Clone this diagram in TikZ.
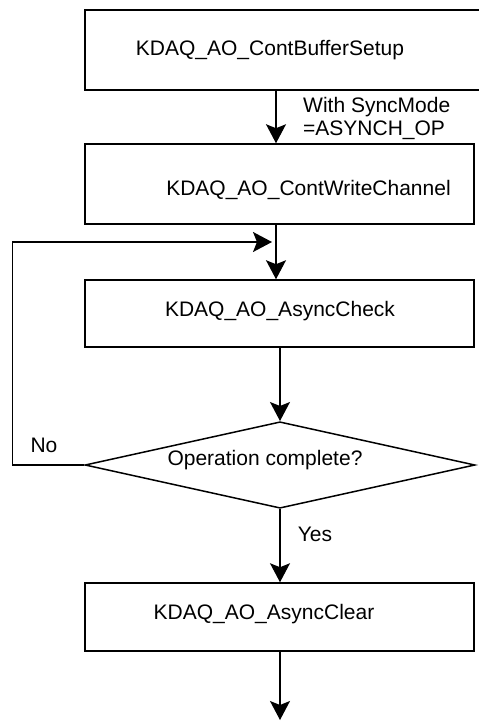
\documentclass[tikz,border=0pt]{standalone}
\usepackage{fontspec}
\setmainfont{Liberation Sans}
\usetikzlibrary{arrows.meta,shapes.geometric}
\begin{document}
\begin{tikzpicture}[x=1pt,y=-1pt,
  every node/.style={font=\fontsize{21}{23}\selectfont, inner sep=0pt},
  boxstyle/.style={draw, line width=1.5pt, rectangle, minimum width=#1},
  conn/.style={line width=1.5pt, -{Stealth[length=19pt,width=20pt,inset=4pt]}},
  lineonly/.style={line width=1.5pt}]
\useasboundingbox (0,0) rectangle (479,721);
\fill[white] (0,0) rectangle (479,721);
% boxes
\node[boxstyle=397pt, minimum height=80pt] (box1) at (283.5,50) {};
\node (t1) at (270,50.5) {KDAQ\_AO\_ContBufferSetup};
\node[boxstyle=389pt, minimum height=80pt] (box2) at (279.5,184) {};
\node (t2) at (308.5,190) {KDAQ\_AO\_ContWriteChannel};
\node[boxstyle=389pt, minimum height=67pt] (box3) at (279.5,313.5) {};
\node (t3) at (280,311.5) {KDAQ\_AO\_AsyncCheck};
\node[draw, line width=1.5pt, shape=diamond, minimum width=390pt, minimum height=86.5pt] (dec) at (280,465) {};
\node (t4) at (265,460.5) {Operation complete?};
\node[boxstyle=389pt, minimum height=68pt] (box4) at (279.5,617) {};
\node (t5) at (264,614.5) {KDAQ\_AO\_AsyncClear};
% labels
\node[align=left, anchor=west, font=\fontsize{21}{23}\selectfont] (lab1) at (303,118.5) {With SyncMode\\=ASYNCH\_OP};
\node (lno) at (44,445.5) {No};
\node (lyes) at (315,534.5) {Yes};
% coordinates
\coordinate (c1) at (276,0);
\coordinate (c2) at (280,0);
\coordinate (loopl) at (12.3,242);
\coordinate (loopr) at (272,242);
\coordinate (endp) at (280,720);
% connectors
\draw[conn] (box1.south -| c1) -- (box2.north -| c1);
\draw[conn] (box2.south -| c1) -- (box3.north -| c1);
\draw[conn] (dec.west) -- (dec.west -| loopl) -- (loopl) -- (loopr);
\draw[conn] (box3.south -| c2) -- (dec.north);
\draw[conn] (dec.south) -- (box4.north -| c2);
\draw[conn] (box4.south -| c2) -- (endp);
\end{tikzpicture}
\end{document}
